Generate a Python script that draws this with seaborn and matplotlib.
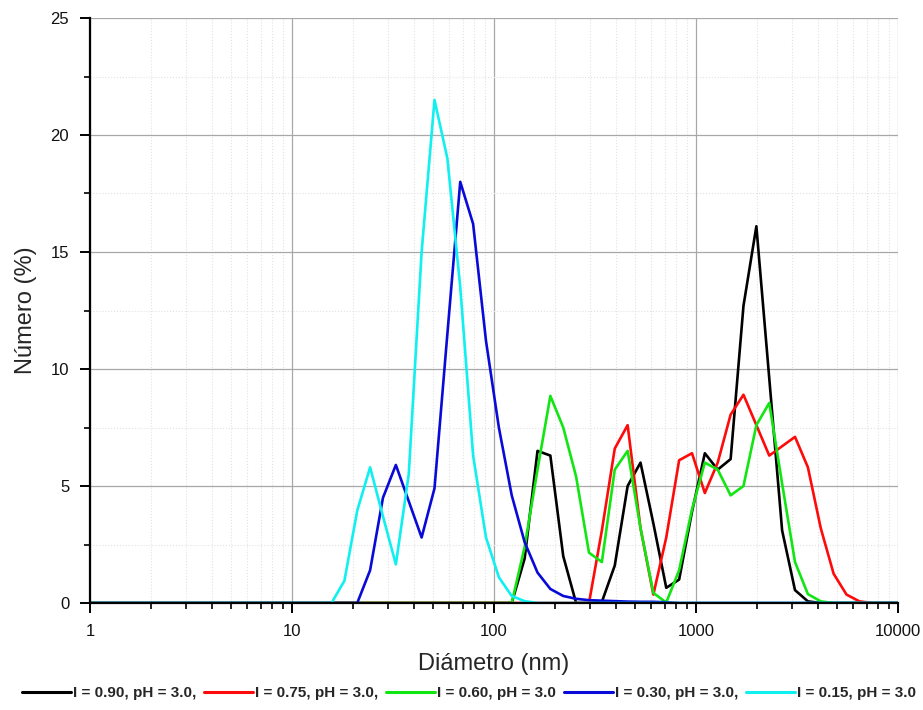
import matplotlib
matplotlib.use("Agg")
import matplotlib.pyplot as plt
import pandas as pd
import seaborn as sns
from matplotlib.ticker import FixedLocator, FixedFormatter, NullFormatter, MultipleLocator

# Size classes (nm) of the DLS number distribution
diameter_nm = [
    0.4, 0.4632, 0.5365, 0.6213, 0.7195, 0.8332, 0.9649, 1.117, 1.294, 1.499,
    1.736, 2.01, 2.328, 2.696, 3.122, 3.615, 4.187, 4.849, 5.615, 6.503,
    7.531, 8.721, 10.1, 11.7, 13.54, 15.69, 18.17, 21.04, 24.36, 28.21,
    32.67, 37.84, 43.82, 50.75, 58.77, 68.06, 78.82, 91.28, 105.7, 122.4,
    141.8, 164.2, 190.1, 220.2, 255.0, 295.3, 342.0, 396.1, 458.7, 531.2,
    615.1, 712.4, 825.0, 955.4, 1106, 1281, 1484, 1718, 1990, 2305,
    2669, 3091, 3580, 4145, 4801, 5560, 6439, 7456, 8635, 10000,
]

numero_i090 = [
    0, 0, 0, 0, 0, 0, 0, 0, 0, 0,
    0, 0, 0, 0, 0, 0, 0, 0, 0, 0,
    0, 0, 0, 0, 0, 0, 0, 0, 0, 0,
    0, 0, 0, 0, 0, 0, 0, 0, 0, 0,
    1.9, 6.5, 6.3, 2.0, 0, 0, 0.05, 1.6, 5.0, 6.0,
    3.4, 0.65, 1.0, 3.9, 6.4, 5.7, 6.15, 12.7, 16.1, 9.6,
    3.1, 0.55, 0.07, 0, 0, 0, 0, 0, 0, 0,
]

numero_i075 = [
    0, 0, 0, 0, 0, 0, 0, 0, 0, 0,
    0, 0, 0, 0, 0, 0, 0, 0, 0, 0,
    0, 0, 0, 0, 0, 0, 0, 0, 0, 0,
    0, 0, 0, 0, 0, 0, 0, 0, 0, 0,
    0, 0, 0, 0, 0, 0, 3.1, 6.6, 7.6, 3.2,
    0.36, 2.8, 6.1, 6.4, 4.7, 6.0, 8.05, 8.9, 7.6, 6.3,
    6.7, 7.1, 5.8, 3.2, 1.25, 0.36, 0.07, 0, 0, 0,
]

numero_i060 = [
    0, 0, 0, 0, 0, 0, 0, 0, 0, 0,
    0, 0, 0, 0, 0, 0, 0, 0, 0, 0,
    0, 0, 0, 0, 0, 0, 0, 0, 0, 0,
    0, 0, 0, 0, 0, 0, 0, 0, 0, 0,
    2.4, 5.7, 8.85, 7.5, 5.4, 2.15, 1.75, 5.7, 6.5, 3.2,
    0.43, 0.02, 1.4, 4.0, 6.0, 5.7, 4.6, 5.0, 7.6, 8.55,
    5.1, 1.75, 0.38, 0.07, 0, 0, 0, 0, 0, 0,
]

numero_i030 = [
    0, 0, 0, 0, 0, 0, 0, 0, 0, 0,
    0, 0, 0, 0, 0, 0, 0, 0, 0, 0,
    0, 0, 0, 0, 0, 0, 0, 0, 1.4, 4.5,
    5.9, 4.35, 2.8, 4.9, 11.5, 18.0, 16.2, 11.2, 7.5, 4.6,
    2.6, 1.3, 0.6, 0.3, 0.18, 0.12, 0.1, 0.08, 0.06, 0.05,
    0.05, 0.03, 0, 0, 0, 0, 0, 0, 0, 0,
    0, 0, 0, 0, 0, 0, 0, 0, 0, 0,
]

numero_i015 = [
    0, 0, 0, 0, 0, 0, 0, 0, 0, 0,
    0, 0, 0, 0, 0, 0, 0, 0, 0, 0,
    0, 0, 0, 0, 0, 0, 0.95, 3.95, 5.8, 3.7,
    1.65, 5.5, 15.0, 21.5, 19.0, 13.5, 6.3, 2.8, 1.1, 0.3,
    0.08, 0, 0, 0, 0, 0, 0, 0, 0, 0,
    0, 0, 0, 0, 0, 0, 0, 0, 0, 0,
    0, 0, 0, 0, 0, 0, 0, 0, 0, 0,
]

series_labels = [
    "I = 0.90, pH = 3.0,",
    "I = 0.75, pH = 3.0,",
    "I = 0.60, pH = 3.0",
    "I = 0.30, pH = 3.0,",
    "I = 0.15, pH = 3.0",
]
series_values = [numero_i090, numero_i075, numero_i060, numero_i030, numero_i015]
series_colors = ["#000000", "#ff0a0a", "#12e612", "#0a0ad8", "#10f0f0"]

x_ticks = [1, 10, 100, 1000, 10000]
x_tick_labels = ["1", "10", "100", "1000", "10000"]
y_ticks = [0, 5, 10, 15, 20, 25]

sns.set_style("white")
plt.rcParams["font.family"] = ["Liberation Sans", "DejaVu Sans"]

frames = []
for label, values in zip(series_labels, series_values):
    frames.append(pd.DataFrame({"diametro": diameter_nm, "numero": values, "serie": label}))
df = pd.concat(frames, ignore_index=True)

fig = plt.figure(figsize=(9.23, 7.10), dpi=100)
ax = fig.add_axes([90 / 923, 1 - 603 / 710, 808 / 923, 585 / 710])

sns.lineplot(
    data=df, x="diametro", y="numero", hue="serie",
    hue_order=series_labels, palette=series_colors,
    linewidth=1.9, sort=False, estimator=None, ax=ax, legend=False,
)

ax.set_xscale("log")
ax.set_xlim(1, 10000)
ax.set_ylim(0, 25)

ax.xaxis.set_major_locator(FixedLocator(x_ticks))
ax.xaxis.set_major_formatter(FixedFormatter(x_tick_labels))
minor_x = [m * 10 ** e for e in range(0, 4) for m in range(2, 10)]
ax.xaxis.set_minor_locator(FixedLocator(minor_x))
ax.xaxis.set_minor_formatter(NullFormatter())
ax.set_yticks(y_ticks)
ax.yaxis.set_minor_locator(MultipleLocator(2.5))

ax.grid(which="major", color="#a8a8a8", linewidth=0.9, linestyle="-")
ax.grid(which="minor", color="#e2e2e2", linewidth=0.8, linestyle=":")
ax.set_axisbelow(True)

for side in ("top", "right"):
    ax.spines[side].set_visible(False)
for side in ("left", "bottom"):
    ax.spines[side].set_color("black")
    ax.spines[side].set_linewidth(1.6)

ax.tick_params(which="major", direction="out", length=7, width=1.4,
               color="black", labelsize=12, labelcolor="#111111", pad=8,
               left=True, bottom=True)
ax.tick_params(which="minor", direction="out", length=4, width=1.2,
               color="black", left=True, bottom=True)

ax.set_xlabel("Diámetro (nm)", fontsize=17, labelpad=10)
ax.set_ylabel("Número (%)", fontsize=17, labelpad=10)

handles = [plt.Line2D([], [], color=c, linewidth=2.2) for c in series_colors]
fig.legend(
    handles, series_labels, loc="center", bbox_to_anchor=(0.508, 0.024),
    ncol=5, frameon=False, handlelength=3.2, handletextpad=0.15,
    columnspacing=0.5,
    prop={"family": ["Liberation Sans", "DejaVu Sans"],
          "weight": "bold", "size": 11},
)

fig.savefig("out.png", dpi=100)
